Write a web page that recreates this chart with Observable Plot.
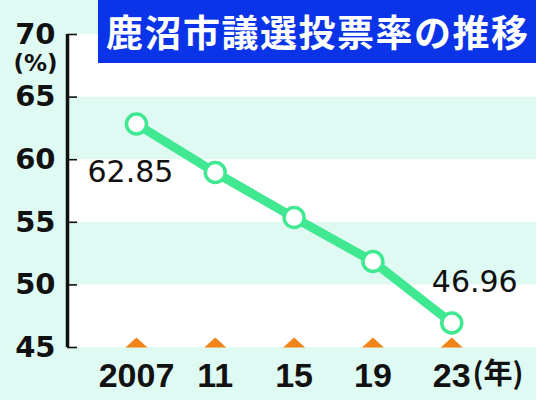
<!DOCTYPE html>
<html>
<head>
<meta charset="utf-8">
<script src="https://cdn.jsdelivr.net/npm/d3@7"></script>
<script src="https://cdn.jsdelivr.net/npm/@observablehq/plot@0.6"></script>
<style>
  html, body { margin: 0; padding: 0; background: #dffaf2; }
  #wrap { position: relative; width: 536px; height: 400px; overflow: hidden; }
  #title {
    position: absolute; left: 98px; top: 0; width: 438px; height: 63px;
    background: #0b34e8; color: #fff;
    font-family: "Noto Sans CJK JP", sans-serif; font-weight: 700;
    font-size: 37px; line-height: 63px; letter-spacing: 1.5px;
    box-sizing: border-box; padding-left: 8px;
    text-align: left; white-space: nowrap;
  }
</style>
</head>
<body>
<div id="wrap"><div id="title">鹿沼市議選投票率の推移</div></div>
<script>
const years = [2007, 2011, 2015, 2019, 2023];
const yearLabels = ["2007", "11", "15", "19", "23"];
const turnout = [62.85, 58.98, 55.38, 51.87, 46.96];
const valueLabels = ["62.85", "", "", "", "46.96"];
const yTicks = [45, 50, 55, 60, 65, 70];
const whiteBandStarts = [45, 55, 65];
const bandWidth = 5;
const xDomain = [2003.5, 2027.3];
const yDomain = [45, 70];

const points = years.map((y, i) => ({year: y, v: turnout[i], label: valueLabels[i], i}));
const bands = whiteBandStarts.map(s => ({y1: s, y2: s + bandWidth}));
const green = "#3fe891";

const flatTriangle = {
  draw(ctx) {
    ctx.moveTo(-11, 0); ctx.lineTo(11, 0); ctx.lineTo(0, -10); ctx.closePath();
  }
};

const chart = Plot.plot({
  width: 536, height: 400,
  marginLeft: 67, marginRight: 0, marginTop: 34, marginBottom: 53,
  style: {background: "transparent", fontFamily: "Liberation Sans, sans-serif"},
  x: {domain: xDomain, axis: null, label: null},
  y: {domain: yDomain, axis: null, label: null},
  marks: [
    Plot.rect(bands, {y1: "y1", y2: "y2", fill: "white"}),
    Plot.axisY({ticks: yTicks, tickSize: 0, tickPadding: 12, tickFormat: d => String(d), label: null,
      fontSize: 29, fontWeight: "bold", fontFamily: "DejaVu Sans", fill: "#111"}),
    Plot.axisY({ticks: yTicks, tickSize: 10, dx: 10, tickFormat: () => "", label: null, strokeWidth: 1.6, stroke: "#111"}),
    Plot.ruleX([xDomain[0]], {strokeWidth: 3.5, stroke: "#111"}),
    Plot.axisX({ticks: years, tickSize: 0, tickPadding: 15, label: null, tickFormat: d => yearLabels[years.indexOf(d)],
      fontSize: 34, fontWeight: "bold", fill: "#111"}),
    Plot.text(["(年)"], {frameAnchor: "bottom-right", dx: -13, dy: 36, text: d => d,
      fontSize: 29, fontWeight: "bold", fontFamily: "Noto Sans CJK JP", fill: "#111"}),
    Plot.text(["(%)"], {frameAnchor: "top-left", dx: -32, dy: 20, text: d => d,
      fontSize: 23, fontWeight: "bold", fontFamily: "DejaVu Sans", fill: "#111", textAnchor: "middle"}),
    Plot.dot(years, {x: d => d, y: yDomain[0], symbol: flatTriangle, fill: "#f08418", stroke: null}),
    Plot.line(points, {x: "year", y: "v", stroke: green, strokeWidth: 9}),
    Plot.dot(points, {x: "year", y: "v", r: 10, fill: "white", stroke: green, strokeWidth: 3.5}),
    Plot.text(points.filter(p => p.i === 0), {x: "year", y: "v", text: "label", dx: -6, dy: 48,
      fontSize: 30, fontFamily: "DejaVu Sans", fill: "#111"}),
    Plot.text(points.filter(p => p.i === 4), {x: "year", y: "v", text: "label", dx: 23, dy: -41,
      fontSize: 30, fontFamily: "DejaVu Sans", fill: "#111"})
  ]
});
chart.style.position = "absolute";
chart.style.left = "0";
chart.style.top = "0";
document.getElementById("wrap").prepend(chart);
</script>
</body>
</html>
